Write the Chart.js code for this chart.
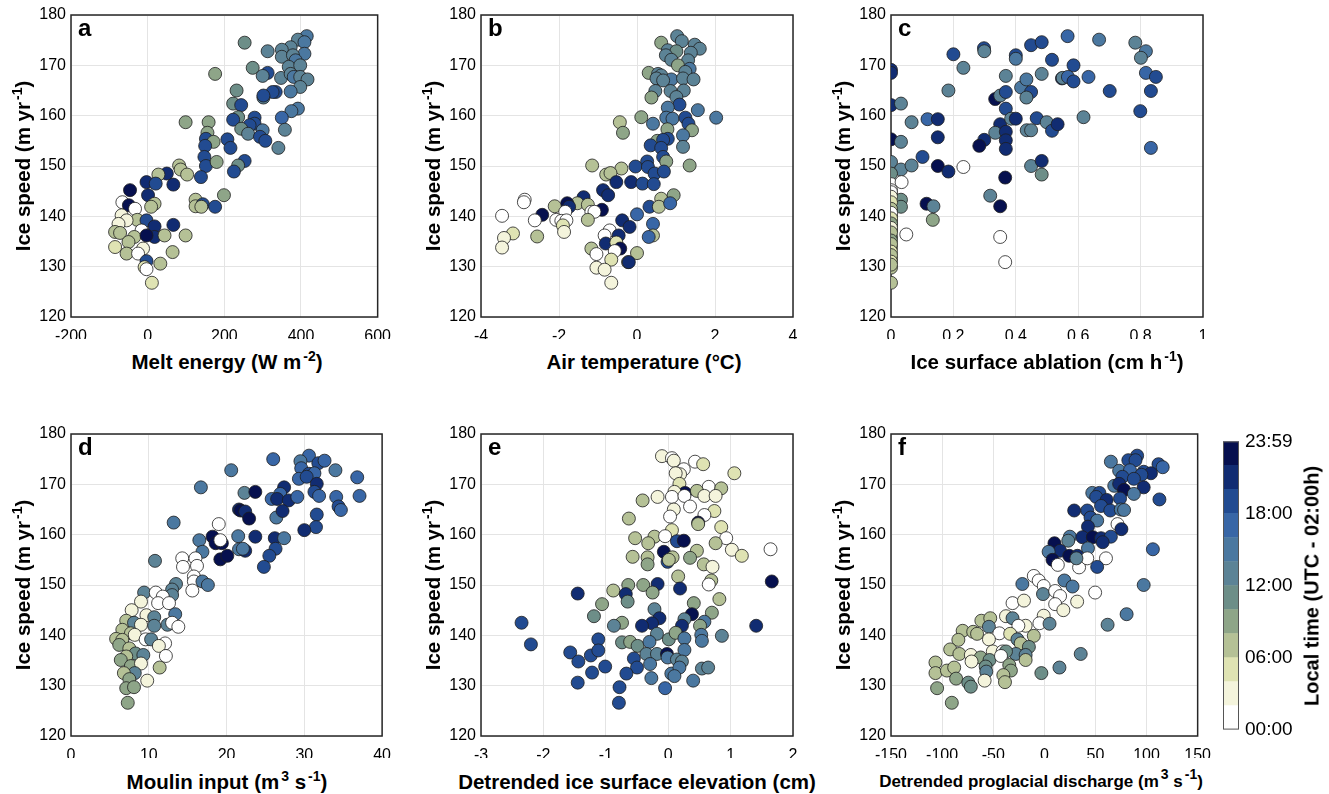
<!DOCTYPE html>
<html>
<head>
<meta charset="utf-8">
<script src="https://cdn.jsdelivr.net/npm/chart.js@4.4.1/dist/chart.umd.min.js"></script>
<style>
  html, body { margin:0; padding:0; background:#fff; }
  body { width:1329px; height:794px; position:relative; overflow:hidden;
         font-family:"Liberation Sans", Arial, Helvetica, sans-serif; color:#000; }
  canvas { position:absolute; }
  .t { position:absolute; white-space:nowrap; font-weight:bold; font-size:20.5px; line-height:21px; }
  .xt { transform:translate(-50%,-50%); }
  .yt { transform:translate(-50%,-50%) rotate(-90deg); }
  .t sup { font-size:14px; line-height:0; vertical-align:8px; margin-left:2px; }
  .lab { position:absolute; font-weight:bold; font-size:24px; line-height:24px; }
</style>
</head>
<body>
<canvas id="ca" width="400" height="339" style="left:1px;top:0px"></canvas>
<canvas id="cb" width="400" height="339" style="left:411px;top:0px"></canvas>
<canvas id="cc" width="400" height="339" style="left:821px;top:0px"></canvas>
<canvas id="cd" width="400" height="339" style="left:1px;top:419px"></canvas>
<canvas id="ce" width="400" height="339" style="left:411px;top:419px"></canvas>
<canvas id="cf" width="400" height="339" style="left:821px;top:419px"></canvas>
<canvas id="cbar" width="110" height="323" style="left:1213px;top:424px"></canvas>

<div class="lab" style="left:78px;top:16px">a</div>
<div class="lab" style="left:488px;top:16px">b</div>
<div class="lab" style="left:898px;top:16px">c</div>
<div class="lab" style="left:78px;top:435px">d</div>
<div class="lab" style="left:488px;top:435px">e</div>
<div class="lab" style="left:898px;top:435px">f</div>

<div class="t yt" style="left:22px;top:166px">Ice speed (m yr<sup>-1</sup>)</div>
<div class="t yt" style="left:432px;top:166px">Ice speed (m yr<sup>-1</sup>)</div>
<div class="t yt" style="left:842px;top:166px">Ice speed (m yr<sup>-1</sup>)</div>
<div class="t yt" style="left:22px;top:585px">Ice speed (m yr<sup>-1</sup>)</div>
<div class="t yt" style="left:432px;top:585px">Ice speed (m yr<sup>-1</sup>)</div>
<div class="t yt" style="left:842px;top:585px">Ice speed (m yr<sup>-1</sup>)</div>

<div class="t xt" style="left:227px;top:361px">Melt energy (W m<sup>-2</sup>)</div>
<div class="t xt" style="left:644px;top:361px">Air temperature (°C)</div>
<div class="t xt" style="left:1047px;top:361px">Ice surface ablation (cm h<sup>-1</sup>)</div>
<div class="t xt" style="left:227px;top:781px">Moulin input (m<sup>3</sup> s<sup>-1</sup>)</div>
<div class="t xt" style="left:637px;top:781px">Detrended ice surface elevation (cm)</div>
<div class="t xt" style="left:1041px;top:781px;font-size:17px">Detrended proglacial discharge (m<sup>3</sup> s<sup>-1</sup>)</div>

<div class="t yt" style="left:1312px;top:586px;font-size:20px">Local time (UTC - 02:00h)</div>

<script>
// ---- data: [x, ice speed (m/yr), local hour] ----
const meltEnergy = [[415,175.8,15],[392,175.1,13],[409,174.6,15],[373,173.6,13],[409,172.3,15],[350,173.1,13],[313,172.8,13],[253,174.5,11],[350,171.7,13],[379,172.0,13],[386,171.0,15],[368,169.7,13],[398,170.0,13],[274,169.5,11],[313,168.5,19],[300,167.9,13],[348,167.5,13],[373,168.3,13],[381,167.7,15],[398,167.7,13],[417,167.2,13],[398,165.7,13],[373,164.8,15],[334,164.7,19],[326,164.7,19],[302,163.6,13],[302,164.0,19],[232,165.0,11],[223,162.4,11],[244,162.1,19],[236,159.7,11],[223,159.2,19],[392,161.4,15],[375,160.9,15],[350,159.6,17],[358,157.2,13],[341,153.6,13],[279,159.6,19],[279,158.4,19],[266,158.1,19],[300,157.1,15],[244,157.4,11],[262,156.4,13],[293,155.8,19],[307,155.0,19],[208,155.3,19],[216,153.6,19],[253,151.0,19],[236,150.1,11],[225,148.9,19],[176,168.3,9],[99,158.7,9],[159,158.7,9],[156,156.6,9],[152,155.4,19],[172,154.8,9],[150,154.0,19],[148,151.8,19],[152,150.0,19],[180,150.8,9],[139,147.8,19],[82,150.1,7],[86,149.3,7],[103,148.3,7],[50,148.5,21],[28,148.3,7],[67,146.3,21],[-3,146.8,21],[21,146.5,19],[-46,145.2,23],[1,144.2,21],[18,142.5,7],[9,141.9,7],[-66,142.8,1],[-49,142.2,23],[-33,141.5,1],[-68,140.2,3],[-27,139.3,7],[-3,139.2,19],[-55,139.2,3],[-76,138.5,3],[18,138.0,21],[67,138.3,21],[-16,137.2,1],[-85,136.9,7],[-72,136.7,7],[18,135.9,21],[44,136.2,7],[99,136.2,7],[-35,135.9,7],[-3,136.2,23],[-50,134.9,7],[-85,133.9,5],[-55,132.6,7],[-12,133.6,3],[-25,132.6,1],[65,132.9,7],[-3,131.1,19],[33,130.6,7],[-8,129.9,5],[-3,129.5,1],[11,126.8,5],[125,143.3,7],[125,142.0,7],[144,142.4,19],[140,141.9,7],[176,141.9,19],[199,144.2,9]];

const airTemp = [[1.03,175.8,13],[1.15,174.8,13],[0.62,174.5,9],[1.48,174.1,13],[1.61,173.3,13],[0.79,173.0,13],[1.01,172.8,11],[1.38,172.5,13],[0.74,172.0,13],[0.88,171.1,13],[1.31,171.0,13],[1.05,170.0,9],[1.35,169.3,15],[0.30,168.5,9],[0.54,168.3,13],[0.62,168.0,13],[1.24,168.7,13],[0.50,167.4,13],[0.88,167.2,15],[1.18,167.4,13],[1.45,167.2,13],[0.67,167.0,13],[0.47,164.9,13],[0.86,164.9,13],[1.20,165.0,13],[0.37,163.6,9],[1.01,163.7,13],[1.09,162.2,19],[0.79,161.6,15],[1.56,161.1,15],[2.03,159.6,15],[0.11,159.7,9],[0.75,159.6,15],[0.91,159.4,15],[1.24,159.6,19],[0.41,158.4,15],[1.32,158.4,19],[1.41,157.1,9],[1.18,156.1,15],[0.78,157.3,9],[-0.44,158.7,7],[-0.36,156.6,9],[0.52,155.0,9],[0.79,155.4,19],[0.67,155.2,19],[0.35,154.1,19],[0.62,153.6,19],[1.18,153.8,13],[0.67,151.8,19],[0.75,150.9,9],[0.26,150.9,19],[-0.04,149.9,19],[0.28,149.8,19],[0.45,148.5,19],[0.69,148.9,19],[1.35,150.1,9],[-1.15,150.1,7],[-0.40,149.5,7],[-0.79,148.3,7],[-0.68,148.6,7],[-0.53,146.8,21],[-0.15,146.8,21],[0.14,146.5,19],[0.43,146.4,19],[-0.87,145.2,21],[-0.74,144.2,21],[-1.37,143.8,21],[-1.53,142.6,7],[-1.26,142.3,7],[-1.79,142.6,23],[-1.74,141.9,21],[-0.90,141.3,23],[-2.88,143.3,1],[-2.90,142.8,1],[-2.11,142.0,7],[-2.43,140.3,23],[-1.84,140.9,1],[-3.46,140.1,1],[-2.62,139.2,1],[-2.07,139.3,1],[-1.94,139.1,1],[-1.81,139.2,1],[-1.17,140.9,1],[-1.09,140.9,1],[-1.26,139.3,7],[-1.90,138.2,5],[-1.87,136.9,3],[0.32,141.9,19],[0.62,143.5,7],[0.56,141.9,7],[0.94,144.2,9],[0.85,142.6,17],[0,140.4,17],[-0.38,139.2,21],[-0.19,137.9,21],[0.41,138.5,17],[0.41,136.2,7],[0.30,135.9,17],[-3.18,136.6,5],[-3.41,135.7,3],[-2.56,136.0,7],[-3.46,133.8,3],[-0.70,137.2,1],[-0.83,136.2,1],[-0.47,136.2,21],[-0.80,134.6,21],[-0.53,134.8,5],[-0.43,133.6,23],[-1.17,133.6,7],[-1.04,132.5,1],[-0.57,133.1,1],[-0.66,131.4,5],[0,132.7,7],[-0.23,130.9,7],[-0.21,130.9,21],[-1.04,129.8,3],[-0.83,129.4,3],[-0.66,126.8,3]];

const ablation = [[0,169.1,21],[0,168.5,21],[0,162.1,21],[0.032,162.4,13],[0,155.3,23],[0.032,154.8,13],[0,150.8,13],[0.032,149.3,13],[0.066,150.1,13],[0,148.5,11],[0,146.4,1],[0.034,146.8,1],[0,145.2,1],[0,144.2,1],[0,143.5,3],[0,142.2,11],[0.032,143.3,11],[0.032,141.9,11],[0,140.0,7],[0,139.1,1],[0,138.2,1],[0,137.2,5],[0,135.9,9],[0,133.8,7],[0,131.6,7],[0,129.8,7],[0,126.8,7],[0.049,136.4,1],[0,144.8,1],[0,143.9,3],[0,142.8,5],[0,141.5,7],[0,140.7,1],[0,139.6,5],[0,138.6,9],[0,137.7,3],[0,136.8,7],[0,135.2,9],[0,134.5,7],[0,133.0,5],[0,132.3,7],[0,131.0,5],[0,130.4,7],[0.066,158.7,13],[0.117,159.3,17],[0.150,159.3,21],[0.150,155.7,21],[0.101,151.8,19],[0.150,150.0,23],[0.184,148.9,21],[0.232,149.8,1],[0.114,142.5,23],[0.136,142.0,13],[0.134,139.3,9],[0.200,172.2,19],[0.232,169.5,13],[0.184,165.0,13],[0.298,173.4,19],[0.299,172.8,13],[0.334,163.3,23],[0.350,164.0,13],[0.368,164.7,19],[0.368,167.9,13],[0.368,161.4,19],[0.350,158.3,21],[0.334,156.6,13],[0.368,156.8,21],[0.368,155.1,21],[0.368,153.4,21],[0.299,155.2,21],[0.283,154.0,23],[0.385,159.4,13],[0.400,159.4,21],[0.366,147.7,23],[0.350,142.0,23],[0.318,144.1,13],[0.350,135.9,1],[0.366,130.9,1],[0.400,172.0,19],[0.400,171.3,15],[0.449,174.0,19],[0.483,174.6,19],[0.417,165.6,15],[0.434,167.2,15],[0.449,164.7,19],[0.434,163.6,13],[0.483,168.3,13],[0.435,157.1,13],[0.449,157.1,13],[0.467,159.5,19],[0.499,158.7,13],[0.516,157.0,19],[0.534,158.3,21],[0.449,150.0,13],[0.483,151.0,21],[0.483,148.3,11],[0.516,171.1,19],[0.566,175.8,17],[0.585,170.0,19],[0.548,167.4,21],[0.550,167.5,13],[0.567,167.7,17],[0.585,166.8,19],[0.633,167.7,17],[0.617,159.7,13],[0.667,175.1,15],[0.701,164.9,19],[0.783,174.5,13],[0.817,172.8,15],[0.801,171.5,13],[0.817,168.5,17],[0.849,167.7,19],[0.833,164.9,19],[0.799,160.9,19],[0.833,153.6,17]];

const moulinInput = [[30.6,175.7,17],[29.5,174.6,15],[31.8,174.2,19],[32.6,174.7,17],[29.6,173.2,17],[30.6,172.1,19],[31.3,172.2,17],[29.3,171.1,17],[30.3,171.5,19],[34.0,172.8,15],[36.8,171.4,17],[26.0,175.0,17],[20.6,172.8,15],[16.7,169.4,15],[31.6,170.1,21],[31.3,168.5,19],[31.9,167.7,17],[34.1,167.5,17],[37.1,167.7,17],[27.4,169.4,21],[26.9,168.1,17],[25.8,167.1,17],[26.5,167.1,21],[28.0,166.8,21],[29.1,167.5,17],[22.3,168.3,13],[23.7,168.5,23],[21.6,165.0,21],[21.8,164.8,23],[22.4,164.6,21],[22.9,163.2,23],[26.4,163.4,15],[27.2,164.7,21],[31.6,164.0,19],[34.4,165.6,19],[34.7,164.9,17],[31.5,161.5,19],[30.0,160.9,21],[13.2,162.4,15],[19.0,162.1,1],[16.5,158.9,15],[18.2,159.6,23],[18.6,158.3,23],[19.4,158.3,23],[19.2,158.9,1],[21.5,159.7,15],[23.7,159.6,21],[26.2,159.3,21],[27.4,159.3,15],[16.9,156.6,15],[21.6,157.1,15],[22.4,156.8,21],[22.1,157.2,15],[26.3,157.2,19],[25.5,155.8,19],[24.8,153.6,19],[19.2,155.1,23],[20.1,155.8,23],[14.3,155.3,1],[16.0,155.3,1],[14.4,153.6,1],[16.2,153.8,1],[10.8,154.8,13],[15.8,151.7,1],[15.8,150.7,1],[15.6,148.9,1],[16.9,150.7,15],[17.6,150.0,15],[13.5,150.2,13],[13.0,149.1,13],[13.0,148.0,13],[9.4,148.5,13],[10.9,148.5,1],[11.8,147.7,1],[9.0,146.7,3],[11.2,146.4,1],[12.6,146.4,1],[7.8,145.0,3],[13.4,144.2,15],[9.7,144.0,3],[10.7,143.6,13],[12.4,142.1,13],[13.0,142.5,1],[13.8,141.7,1],[7.1,142.9,7],[8.1,142.5,13],[9.0,142.1,3],[10.7,141.9,13],[6.6,141.1,7],[7.7,140.4,7],[8.2,140.1,3],[5.8,139.3,7],[6.6,139.1,7],[9.6,139.2,1],[10.3,139.2,13],[12.1,138.4,1],[11.3,137.9,3],[6.2,138.1,9],[7.5,137.4,7],[8.3,136.4,11],[9.3,136.1,13],[7.1,135.8,7],[12.2,135.9,1],[6.4,135.1,9],[7.7,133.9,9],[9.0,134.4,3],[11.4,133.6,7],[8.2,132.5,13],[6.8,132.5,7],[7.5,131.3,9],[9.8,131.0,3],[7.1,129.5,9],[8.1,129.7,9],[7.3,126.6,9]];

const surfaceElev = [[-0.10,175.6,3],[0.06,175.2,1],[0.09,174.7,3],[0.43,174.5,1],[0.56,174.0,5],[0.25,173.0,1],[0.19,172.0,3],[0.12,172.2,3],[1.06,172.2,5],[0.18,170.1,5],[0.27,168.3,23],[0.65,169.5,1],[0.85,169.2,7],[0.46,168.7,7],[0.58,167.7,3],[0.76,167.7,3],[0.10,168.5,3],[0.06,167.5,1],[0.26,167.7,1],[-0.17,167.5,3],[-0.41,166.8,7],[0.35,165.6,1],[0.09,165.0,3],[0.74,164.7,5],[0.58,163.9,1],[0.03,163.6,1],[-0.63,163.2,7],[0.48,162.4,23],[0.48,162.1,7],[0.85,161.5,5],[0.06,160.9,5],[-0.53,159.3,7],[-0.22,159.6,7],[-0.05,159.7,1],[0.14,158.7,19],[0.25,158.8,23],[-0.32,158.3,7],[0.93,159.3,1],[0.76,158.3,7],[-0.07,156.6,23],[-0.01,154.6,19],[0.07,155.5,7],[0.01,155.0,7],[0.46,156.8,7],[0.35,155.4,9],[1.02,157.0,3],[1.18,155.8,5],[1.64,157.1,1],[-0.57,155.6,7],[-0.33,155.5,7],[-0.33,154.1,9],[0.57,154.1,7],[0.71,153.6,3],[0.16,151.7,7],[0.69,150.9,7],[0.65,150.1,1],[1.66,150.7,23],[-0.64,150.0,9],[-0.40,150.0,9],[-0.17,150.2,21],[0.19,149.3,21],[-0.25,148.5,9],[-0.88,148.9,7],[-0.68,148.2,21],[-0.65,146.7,11],[-1.45,148.3,21],[-1.06,146.2,9],[0.82,147.2,7],[0.41,146.4,9],[0.70,144.5,9],[-0.22,145.2,13],[-0.14,143.4,21],[-0.26,142.4,21],[-0.42,141.9,21],[0.38,144.2,23],[0.26,143.2,13],[0.22,141.9,21],[0.58,142.7,15],[0.51,141.9,9],[1.41,141.9,21],[-1.19,143.8,11],[-0.74,142.5,9],[-0.87,141.9,13],[-2.35,142.5,19],[-2.20,138.2,19],[-0.18,140.3,13],[0.01,139.2,11],[0.12,140.5,9],[0.26,139.4,15],[0.53,140.1,15],[0.54,138.9,15],[0.86,139.9,13],[-1.12,139.2,19],[-0.74,138.6,11],[-0.61,138.7,9],[-0.49,137.9,11],[-0.30,138.7,15],[-1.57,136.6,19],[-1.44,134.8,19],[-1.24,136.0,19],[-1.12,137.0,19],[-1.01,133.8,19],[-0.55,135.4,19],[-0.35,136.3,13],[-0.18,136.3,13],[-0.02,136.3,23],[-0.01,135.6,15],[0.14,135.2,13],[0.26,137.1,15],[0.22,134.8,13],[-0.29,134.3,15],[-0.50,133.6,19],[-1.22,132.6,19],[-0.67,132.4,19],[0.05,132.4,15],[0.18,133.6,15],[0.10,131.9,15],[0.54,133.4,13],[0.64,133.6,13],[-1.45,130.6,19],[-0.27,131.5,15],[-0.05,129.5,17],[0.40,131.0,15],[-0.78,129.7,19],[-0.79,126.6,19]];

const discharge = [[90.8,175.7,19],[82.2,174.8,19],[65.1,174.5,15],[89.2,174.8,19],[111.7,174.0,19],[115.8,173.4,17],[73.2,172.7,15],[83.8,172.8,17],[76.4,171.5,19],[97.2,172.5,19],[104.3,172.2,21],[95.0,171.9,19],[87.6,171.1,19],[68.4,169.7,15],[73.2,170.1,21],[78.0,168.9,23],[97.2,169.4,21],[87.6,168.1,15],[46.9,168.3,15],[53.9,168.3,19],[50.7,167.5,19],[112.6,167.0,19],[74.1,167.2,19],[61.0,166.9,21],[55.5,165.7,19],[64.5,164.8,19],[74.8,165.0,15],[78.0,164.9,15],[29.2,164.8,21],[42.0,164.8,19],[45.2,163.4,19],[51.7,162.8,15],[71.6,162.1,1],[75.4,161.1,21],[42.7,161.6,21],[25.0,159.6,15],[37.2,159.5,21],[47.5,159.5,23],[55.5,159.3,21],[65.1,159.6,19],[23.4,158.8,13],[57.1,158.5,21],[9.9,158.3,23],[15.4,156.8,21],[4.2,156.6,15],[8.0,155.0,23],[24.4,155.8,23],[32.4,155.8,21],[42.7,157.3,15],[106.2,157.1,17],[13.2,154.0,1],[34.0,153.5,1],[42.0,155.3,1],[60.3,155.3,1],[51.7,153.6,19],[31.4,155.3,13],[-10.3,151.8,1],[-5.5,150.9,1],[-0.6,149.8,1],[19.6,150.9,15],[-21.5,150.2,15],[27.6,149.7,15],[97.2,150.0,15],[-1.3,148.2,13],[10.6,148.8,1],[15.4,147.8,1],[10.6,146.2,1],[49.7,148.5,1],[-31.1,146.4,1],[-19.9,146.9,3],[18.6,145.0,3],[32.1,146.7,3],[-37.5,143.8,3],[-0.6,143.9,3],[-61.6,142.9,7],[-52.9,143.4,7],[-31.1,143.4,13],[-18.3,141.9,3],[-25.4,141.9,1],[-4.8,142.4,1],[5.1,142.3,13],[-54.2,141.7,13],[-79.9,140.9,7],[-69.6,140.7,7],[-65.8,140.3,7],[-44.0,140.4,1],[-33.4,140.3,5],[-10.3,139.9,7],[-84.1,139.1,7],[-54.2,139.2,3],[-26.3,139.2,13],[-23.1,138.4,7],[-15.1,137.7,11],[-92.1,137.2,7],[-83.1,136.3,7],[-71.9,136.1,3],[-50.4,136.8,3],[-40.8,136.8,1],[-27.9,136.3,13],[-18.3,136.1,13],[-37.5,136.8,11],[-62.3,135.6,9],[-71.2,134.8,3],[-53.6,135.1,11],[-42.4,135.9,1],[-18.3,135.1,7],[-106.5,134.6,7],[-106.5,132.5,7],[-95.3,133.0,7],[-88.2,133.6,7],[-86.3,131.4,9],[-57.4,133.8,11],[-56.8,132.8,13],[-34.3,134.1,9],[-32.7,133.0,9],[-40.1,132.1,7],[-74.4,130.6,11],[-71.9,129.8,11],[-58.4,131.0,3],[-38.5,130.7,7],[-104.9,129.5,9],[-90.5,126.6,9],[-2.9,132.5,11],[14.8,133.6,13],[35.6,136.3,13],[61.9,142.1,13],[80.5,144.2,15]];

// colour bins: 2-hour steps, 00:00 -> 23:59
const hourBinEdges = [0,2,4,6,8,10,12,14,16,18,20,22,24];
const timeTickLabels = ['00:00','06:00','12:00','18:00','23:59'];
const speedTicks = [120,130,140,150,160,170,180];

const palette = ['#ffffff','#f4f4dc','#dfe3b3','#b5c196','#8ea588','#6d8e88','#5c8396','#4b78a0','#3866a6','#224b91','#112c72','#06104f'];

const FONT = { family:'"Liberation Sans", Arial, Helvetica, sans-serif', size:16 };
const FONT_CB = { family:'"Liberation Sans", Arial, Helvetica, sans-serif', size:19 };

const framePlugin = {
  id:'frame',
  beforeDatasetsDraw(chart) {
    const a = chart.chartArea, c = chart.ctx;
    c.save(); c.strokeStyle = '#262626'; c.lineWidth = 1.5;
    c.strokeRect(a.left, a.top, a.right - a.left, a.bottom - a.top);
    c.restore();
  }
};

function panel(id, data, xmin, xmax, xstep) {
  new Chart(document.getElementById(id), {
    type:'scatter',
    data:{ datasets:[{
      data: data.map(d => ({x:d[0], y:d[1]})),
      pointBackgroundColor: data.map(d => palette[Math.min(11, Math.floor(d[2]/2))]),
      pointBorderColor:'#1e1e1e', pointBorderWidth:0.8,
      pointRadius:6.5, pointHoverRadius:6.5
    }]},
    options:{
      responsive:false, animation:false, devicePixelRatio:1,
      layout:{ padding:{ top:15, right:18, left:0, bottom:0 } },
      plugins:{ legend:{display:false}, tooltip:{enabled:false} },
      scales:{
        x:{ type:'linear', min:xmin, max:xmax,
            ticks:{ stepSize:xstep, font:FONT, color:'#000', padding:10, maxRotation:0,
                    callback:v => String(Math.round(v*10)/10) },
            grid:{ color:'#e4e4e4', lineWidth:1, drawTicks:false },
            border:{ display:false },
            afterFit(s){ s.height = 22; } },
        y:{ type:'linear', min:speedTicks[0], max:speedTicks[speedTicks.length-1],
            ticks:{ stepSize:10, font:FONT, color:'#000', padding:5 },
            grid:{ color:'#e4e4e4', lineWidth:1, drawTicks:false },
            border:{ display:false },
            afterFit(s){ s.width = 70; } }
      }
    },
    plugins:[framePlugin]
  });
}

panel('ca', meltEnergy, -200, 600, 200);
panel('cb', airTemp, -4, 4, 2);
panel('cc', ablation, 0, 1, 0.2);
panel('cd', moulinInput, 0, 40, 10);
panel('ce', surfaceElev, -3, 2, 1);
panel('cf', discharge, -150, 150, 50);

// colour bar
const barSets = palette.map((col, i) => ({
  data:[hourBinEdges[i+1] - hourBinEdges[i]], backgroundColor:col, borderWidth:0,
  barPercentage:1, categoryPercentage:1
}));
new Chart(document.getElementById('cbar'), {
  type:'bar',
  data:{ labels:[''], datasets:barSets },
  options:{
    responsive:false, animation:false, devicePixelRatio:1,
    layout:{ padding:{ top:10, left:10, right:0, bottom:10 } },
    plugins:{ legend:{display:false}, tooltip:{enabled:false} },
    scales:{
      x:{ stacked:true, display:false },
      y:{ stacked:true, position:'right', min:0, max:24,
          ticks:{ stepSize:6, font:FONT_CB, color:'#000', padding:6,
                  callback:(v) => timeTickLabels[Math.round(v/6)] },
          grid:{ display:false, drawTicks:false }, border:{ display:false },
          afterFit(s){ s.width = 84; } }
    }
  },
  plugins:[{
    id:'cbframe',
    afterDatasetsDraw(chart){
      const a = chart.chartArea, c = chart.ctx;
      c.save(); c.strokeStyle = '#555'; c.lineWidth = 1;
      c.strokeRect(a.left+0.5, a.top+0.5, a.right-a.left-1, a.bottom-a.top-1);
      c.restore();
    }
  }]
});
</script>
</body>
</html>
